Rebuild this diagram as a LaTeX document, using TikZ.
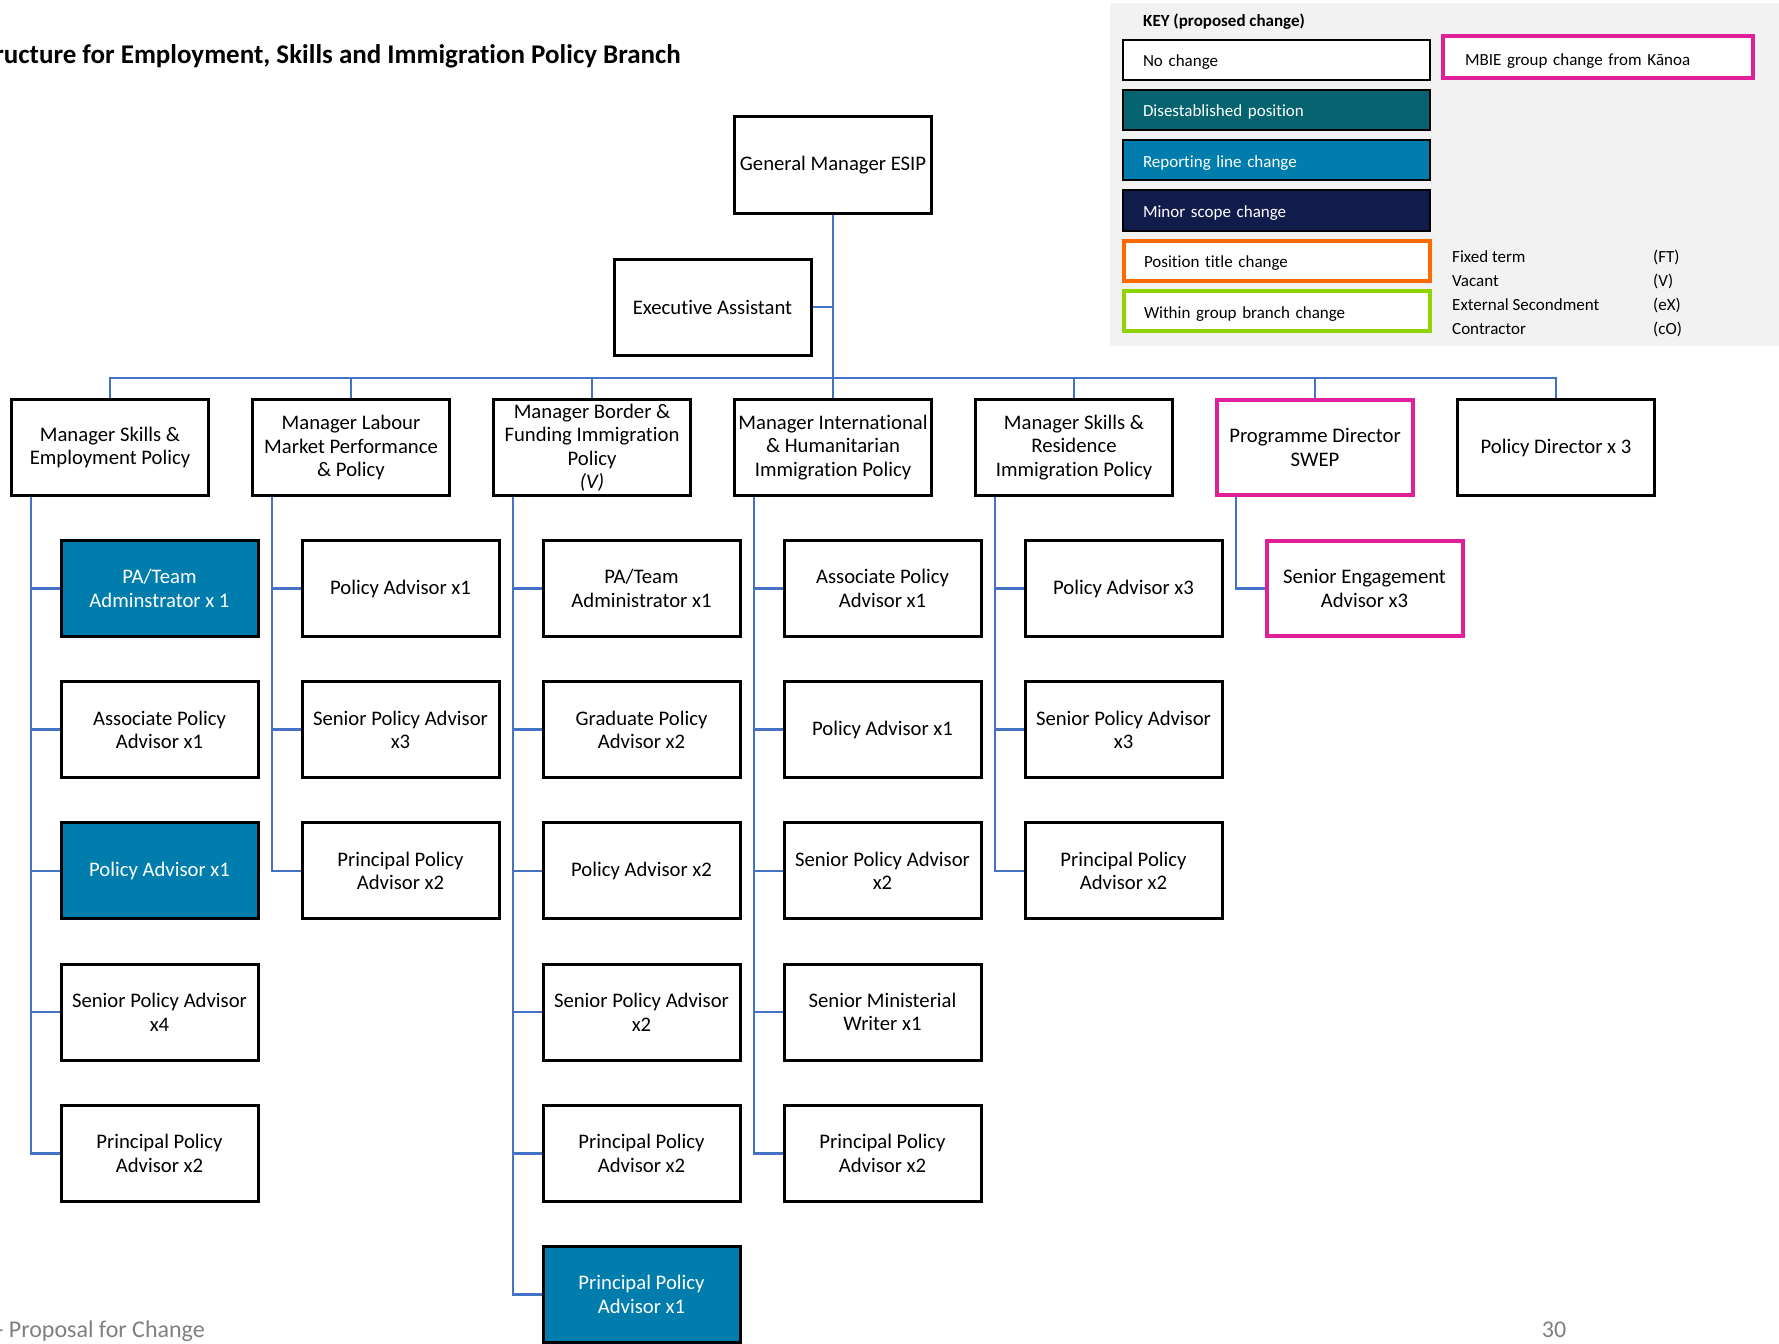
\documentclass[tikz,border=0pt]{standalone}
\usepackage{fontspec}
\setmainfont{Carlito}[Ligatures=NoCommon]

\definecolor{linkblue}{HTML}{4472C4}
\definecolor{reportblue}{HTML}{007DAD}
\definecolor{disestab}{HTML}{04636F}
\definecolor{minorscope}{HTML}{121C4C}
\definecolor{titleorange}{HTML}{FF6A00}
\definecolor{branchgreen}{HTML}{92D400}
\definecolor{kanoapink}{HTML}{E0209A}
\definecolor{keygrey}{HTML}{F2F2F2}
\definecolor{footgrey}{HTML}{7F7F7F}

\newcommand\bxfont{\fontsize{20.7}{23.5}\selectfont}
\newcommand\keyfont{\fontsize{17}{20}\selectfont}

\tikzset{
  box/.style={draw=black, line width=3pt, fill=white, minimum width=197pt,
    minimum height=96pt, inner sep=0pt, align=center, font=\bxfont},
  report/.style={box, fill=reportblue, text=white},
  kanoa/.style={box, draw=kanoapink, line width=4pt, minimum width=196pt, minimum height=95pt},
  link/.style={draw=linkblue, line width=2.6pt},
  keybox/.style={draw=black, line width=2pt, minimum height=40pt, text width=267pt,
    text height=15pt, text depth=1pt,
    inner xsep=20pt, inner ysep=0pt, align=left, font=\keyfont, anchor=west},
  legend/.style={font=\keyfont, anchor=base west, inner sep=0pt},
}

\begin{document}
\begin{tikzpicture}[x=1pt, y=-1pt]
\useasboundingbox (0,0) rectangle (1779,1343);
\clip (0,0) rectangle (1779,1343);

% heading and footer
\node[font=\bfseries\fontsize{27}{31}\selectfont, anchor=base east, inner sep=0pt] (title)
  at (681,64) {ructure for Employment, Skills and Immigration Policy Branch};
\node[font=\fontsize{24}{28}\selectfont, text=footgrey, anchor=base east, inner sep=0pt] (foot)
  at (205,1337) {- Proposal for Change};
\node[font=\fontsize{24}{28}\selectfont, text=footgrey, anchor=base, inner sep=0pt] (page)
  at (1554,1337) {30};

% key panel
\fill[keygrey] (1110,3) rectangle (1779,346);
\node[font=\bfseries\keyfont, anchor=base west, inner sep=0pt] (keytitle) at (1143,27) {KEY (proposed change)};
\node[keybox, fill=white] (k1) at (1122,60) {No change};
\node[keybox, fill=disestab, text=white] (k2) at (1122,110) {Disestablished position};
\node[keybox, fill=reportblue, text=white] (k3) at (1122,160.5) {Reporting line change};
\node[keybox, fill=minorscope, text=white] (k4) at (1122,210.5) {Minor scope change};
\node[keybox, fill=white, draw=titleorange, line width=4pt, text width=266pt] (k5) at (1122,260.5) {Position title change};
\node[keybox, fill=white, draw=branchgreen, line width=4pt, text width=266pt] (k6) at (1122,311) {Within group branch change};
\node[keybox, fill=white, draw=kanoapink, line width=4pt, text width=266pt, minimum height=42pt,
  inner xsep=22pt, text height=16pt, text depth=0pt] (k7) at (1441,57.5) {MBIE group change from Kānoa};

\node[legend] (ft) at (1452,262) {Fixed term};
\node[legend] (va) at (1452,286) {Vacant};
\node[legend] (ex) at (1452,310) {External Secondment};
\node[legend] (co) at (1452,334) {Contractor};
\node[legend] (ftx) at (1653,262) {(FT)};
\node[legend] (vax) at (1653,286) {(V)};
\node[legend] (exx) at (1653,310) {(eX)};
\node[legend] (cox) at (1653,334) {(cO)};

% general manager and executive assistant
\node[box] (gm) at (833,165) {General Manager ESIP};
\node[box] (ea) at (712.5,307) {Executive Assistant};
\coordinate (bus) at (833,378);

% managers
\node[box] (m0) at (110,447.5) {Manager Skills \&\\Employment Policy};
\node[box] (m1) at (351,447.5) {Manager Labour\\Market Performance\\\& Policy};
\node[box] (m2) at (592,447.5) {Manager Border \&\\Funding Immigration\\Policy\\\textit{(V)}};
\node[box] (m3) at (833,447.5) {Manager International\\\& Humanitarian\\Immigration Policy};
\node[box] (m4) at (1074,447.5) {Manager Skills \&\\Residence\\Immigration Policy};
\node[kanoa] (m5) at (1315,447.5) {Programme Director\\SWEP};
\node[box] (m6) at (1556,447.5) {Policy Director x 3};

% reporting lines from the general manager
\draw[link] (gm.south) -- (bus);
\draw[link] (ea.east) -- (ea.east -| gm.south);
\draw[link] (m0.north) -- (m0.north |- bus) -- (m6.north |- bus) -- (m6.north);
\foreach \m in {m1,m2,m3,m4,m5}
  \draw[link] (\m.north) -- (\m.north |- bus);

% team: skills & employment
\node[report] (a1) at (159.5,588.5) {PA/Team\\Adminstrator x 1};
\node[box] (a2) at (159.5,729.7) {Associate Policy\\Advisor x1};
\node[report] (a3) at (159.5,870.9) {Policy Advisor x1};
\node[box] (a4) at (159.5,1012.1) {Senior Policy Advisor\\x4};
\node[box] (a5) at (159.5,1153.3) {Principal Policy\\Advisor x2};

% team: labour market
\node[box] (b1) at (400.5,588.5) {Policy Advisor x1};
\node[box] (b2) at (400.5,729.7) {Senior Policy Advisor\\x3};
\node[box] (b3) at (400.5,870.9) {Principal Policy\\Advisor x2};

% team: border & funding
\node[box] (c1) at (641.5,588.5) {PA/Team\\Administrator x1};
\node[box] (c2) at (641.5,729.7) {Graduate Policy\\Advisor x2};
\node[box] (c3) at (641.5,870.9) {Policy Advisor x2};
\node[box] (c4) at (641.5,1012.1) {Senior Policy Advisor\\x2};
\node[box] (c5) at (641.5,1153.3) {Principal Policy\\Advisor x2};
\node[report] (c6) at (641.5,1294.5) {Principal Policy\\Advisor x1};

% team: international & humanitarian
\node[box] (d1) at (882.5,588.5) {Associate Policy\\Advisor x1};
\node[box] (d2) at (882.5,729.7) {Policy Advisor x1};
\node[box] (d3) at (882.5,870.9) {Senior Policy Advisor\\x2};
\node[box] (d4) at (882.5,1012.1) {Senior Ministerial\\Writer x1};
\node[box] (d5) at (882.5,1153.3) {Principal Policy\\Advisor x2};

% team: skills & residence
\node[box] (e1) at (1123.5,588.5) {Policy Advisor x3};
\node[box] (e2) at (1123.5,729.7) {Senior Policy Advisor\\x3};
\node[box] (e3) at (1123.5,870.9) {Principal Policy\\Advisor x2};

% team: programme director
\node[kanoa] (f1) at (1364.5,588.5) {Senior Engagement\\Advisor x3};

% reporting lines within each team
\foreach \c in {a1,a2,a3,a4,a5} \draw[link] ([xshift=21pt]m0.south west) |- (\c.west);
\foreach \c in {b1,b2,b3} \draw[link] ([xshift=21pt]m1.south west) |- (\c.west);
\foreach \c in {c1,c2,c3,c4,c5,c6} \draw[link] ([xshift=21pt]m2.south west) |- (\c.west);
\foreach \c in {d1,d2,d3,d4,d5} \draw[link] ([xshift=21pt]m3.south west) |- (\c.west);
\foreach \c in {e1,e2,e3} \draw[link] ([xshift=21pt]m4.south west) |- (\c.west);
\draw[link] ([xshift=21pt]m5.south west) |- (f1.west);
\end{tikzpicture}
\end{document}
